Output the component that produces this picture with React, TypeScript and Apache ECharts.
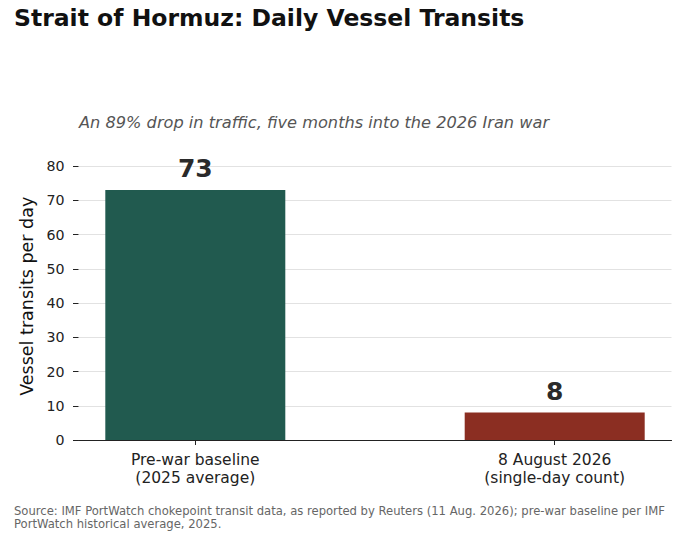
import React, { useEffect, useRef } from "react";
import * as echarts from "echarts";

const categories = ["Pre-war baseline\n(2025 average)", "8 August 2026\n(single-day count)"];
const positions = [0, 1];
const values = [73, 8];
const barColors = ["#215a4f", "#8b2e22"];
const yTickValues = [0, 10, 20, 30, 40, 50, 60, 70, 80];
const yMax = 83.95;
const titleText = "Strait of Hormuz: Daily Vessel Transits";
const subtitleText = "An 89% drop in traffic, five months into the 2026 Iran war";
const yName = "Vessel transits per day";
const sourceText =
  "Source: IMF PortWatch chokepoint transit data, as reported by Reuters (11 Aug. 2026); pre-war baseline per IMF\nPortWatch historical average, 2025.";

const FONT = "DejaVu Sans";

export default function App() {
  const ref = useRef<HTMLDivElement>(null);
  useEffect(() => {
    document.body.style.margin = "0";
    const chart = echarts.init(ref.current!, null, { renderer: "svg" });
    chart.setOption({
      animation: false,
      backgroundColor: "#ffffff",
      textStyle: { fontFamily: FONT },
      title: [
        {
          text: titleText,
          left: 9,
          top: 1,
          textStyle: { fontFamily: FONT, fontSize: 23.5, fontWeight: "bold", color: "#111111" },
        },
        {
          text: subtitleText,
          left: 74,
          top: 109.5,
          textStyle: { fontFamily: FONT, fontSize: 16.2, fontStyle: "italic", fontWeight: "normal", color: "#555555" },
        },
      ],
      graphic: [
        {
          type: "text",
          left: 14,
          top: 505,
          style: {
            text: sourceText,
            fontFamily: FONT,
            fontSize: 11.6,
            lineHeight: 12.7,
            fill: "#666666",
          },
        },
      ],
      grid: { left: 78.5, right: 18.5, top: 152.5, bottom: 102, containLabel: false },
      xAxis: {
        type: "value",
        min: -0.325,
        max: 1.325,
        splitLine: { show: false },
        axisLine: { show: true, onZero: false, lineStyle: { color: "#222222", width: 1.2 } },
        axisTick: { show: true, customValues: positions, length: 5, lineStyle: { color: "#222222" } },
        axisLabel: {
          customValues: positions,
          formatter: (v: number) => categories[Math.round(v)] ?? "",
          fontFamily: FONT,
          fontSize: 15.5,
          lineHeight: 17.7,
          color: "#222222",
          margin: 11,
        },
      },
      yAxis: {
        type: "value",
        min: 0,
        max: yMax,
        name: yName,
        nameLocation: "middle",
        nameGap: 42,
        nameTextStyle: { fontFamily: FONT, fontSize: 17.5, color: "#111111" },
        axisLine: { show: false, onZero: false },
        axisTick: {
          show: true,
          inside: false,
          customValues: yTickValues,
          length: 5.5,
          lineStyle: { color: "#222222", width: 1 },
        },
        axisLabel: {
          customValues: yTickValues,
          fontFamily: FONT,
          fontSize: 14.2,
          color: "#222222",
          margin: 14,
        },
        splitLine: { show: true, lineStyle: { color: "#e2e2e2", width: 1 } },
      },
      series: [
        {
          type: "bar",
          barWidth: 180,
          data: values.map((v, i) => ({
            value: [positions[i], v],
            itemStyle: { color: barColors[i] },
          })),
          label: {
            show: true,
            position: "top",
            distance: 9,
            formatter: (p: any) => String(p.value[1]),
            fontFamily: FONT,
            fontSize: 25,
            fontWeight: "bold",
            color: "#2a2a2a",
          },
        },
      ],
    });
    return () => chart.dispose();
  }, []);
  return <div ref={ref} style={{ width: 690, height: 542 }} />;
}
